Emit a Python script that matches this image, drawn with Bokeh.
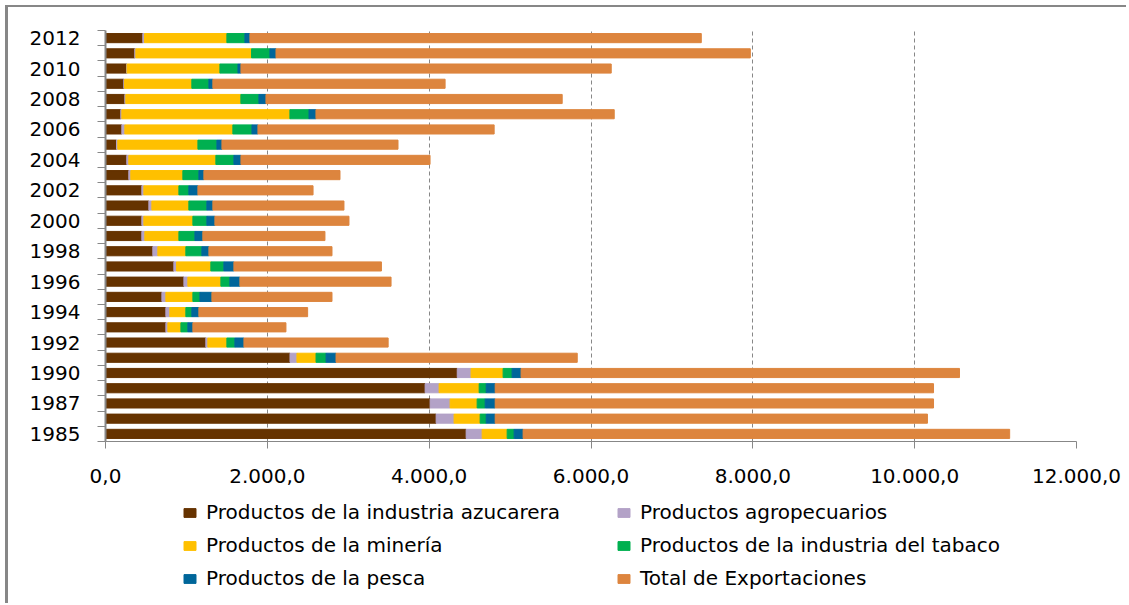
from bokeh.plotting import figure
from bokeh.layouts import column
from bokeh.models import Range1d, FixedTicker, Legend, LegendItem, ColumnDataSource
from bokeh.embed import file_html
from bokeh.resources import INLINE

# ---- data (millions of pesos), bottom row first ----
years = [1985, 1986, 1987, 1989, 1990, 1991, 1992, 1993, 1994, 1995, 1996, 1997, 1998,
         1999, 2000, 2001, 2002, 2003, 2004, 2005, 2006, 2007, 2008, 2009, 2010, 2011, 2012]

azucar = [4457, 4086, 4012, 3950, 4347, 2280, 1240, 746, 746, 697, 969, 845, 585,
          449, 449, 536, 449, 288, 263, 136, 202, 189, 239, 226, 263, 362, 461]
agro = [198, 222, 247, 173, 171, 86, 25, 25, 49, 49, 49, 33, 62,
        37, 25, 37, 25, 25, 25, 16, 37, 13, 12, 9, 3, 13, 21]
mineria = [309, 322, 334, 495, 396, 236, 235, 161, 198, 334, 408, 424, 346,
           421, 606, 457, 433, 643, 1076, 990, 1335, 2077, 1422, 832, 1148, 1430, 1018]
tabaco = [86, 75, 99, 87, 111, 124, 99, 86, 74, 87, 111, 161, 198,
          198, 173, 223, 123, 198, 223, 235, 236, 236, 223, 211, 223, 227, 223]
pesca = [111, 111, 124, 111, 111, 123, 112, 62, 87, 148, 124, 124, 87,
         98, 99, 74, 112, 62, 87, 62, 74, 86, 87, 49, 37, 75, 62]
total = [6013, 5342, 5417, 5417, 5418, 2981, 1782, 1150, 1344, 1484, 1868, 1823, 1521,
         1509, 1657, 1620, 1423, 1682, 2337, 2176, 2919, 3686, 3661, 2870, 4576, 5862, 5578]

series_names = ["Productos de la industria azucarera", "Productos agropecuarios",
                "Productos de la minería", "Productos de la industria del tabaco",
                "Productos de la pesca", "Total de Exportaciones"]
series_keys = ["azucar", "agro", "mineria", "tabaco", "pesca", "total"]
colors = ["#663300", "#B3A2C7", "#FFC000", "#00B050", "#00669A", "#DD853E"]

x_ticks = [0, 2000, 4000, 6000, 8000, 10000, 12000]
x_tick_labels = ["0,0", "2.000,0", "4.000,0", "6.000,0", "8.000,0", "10.000,0", "12.000,0"]

rows = list(range(len(years)))
src = ColumnDataSource(dict(row=rows, azucar=azucar, agro=agro, mineria=mineria,
                            tabaco=tabaco, pesca=pesca, total=total))

FONT = "DejaVu Sans"
GRAY = "#878787"

p = figure(output_backend="svg", toolbar_location=None,
           frame_width=971, frame_height=411,
           min_border_left=97, min_border_top=23, min_border_right=50, min_border_bottom=52,
           x_range=Range1d(0, 12000), y_range=Range1d(-0.5, len(years) - 0.5))
p.outline_line_color = None
p.background_fill_color = "white"
p.border_fill_color = "white"

renderers = p.hbar_stack(series_keys, y="row", height=0.6, color=colors, source=src)

# x axis
xa = p.xaxis[0]
xa.ticker = FixedTicker(ticks=x_ticks)
xa.major_label_overrides = {t: l for t, l in zip(x_ticks, x_tick_labels)}
xa.axis_line_color = GRAY
xa.axis_line_width = 1
xa.major_tick_line_color = GRAY
xa.major_tick_out = 7
xa.major_tick_in = 0
xa.minor_tick_line_color = None
xa.major_label_standoff = 20
xa.major_label_text_font = FONT
xa.major_label_text_font_size = "20px"
xa.major_label_text_color = "#000000"

# y axis
ya = p.yaxis[0]
even_rows = [r for r in rows if r % 2 == 0]
ya.ticker = FixedTicker(ticks=even_rows, minor_ticks=[r - 0.5 for r in rows] + [len(rows) - 0.5])
ya.major_label_overrides = {r: str(years[r]) for r in even_rows}
ya.axis_line_color = GRAY
ya.axis_line_width = 2
ya.major_tick_line_color = None
ya.major_tick_out = 0
ya.major_tick_in = 0
ya.minor_tick_line_color = GRAY
ya.minor_tick_out = 8
ya.minor_tick_in = 0
ya.major_label_standoff = 17
ya.major_label_text_font = FONT
ya.major_label_text_font_size = "20px"
ya.major_label_text_color = "#000000"

# grid
p.xgrid.ticker = FixedTicker(ticks=x_ticks)
p.xgrid.grid_line_color = GRAY
p.xgrid.grid_line_dash = "4 3"
p.xgrid.grid_line_width = 1
p.ygrid.visible = False

# ---- legend strip below the chart (two columns, filled row by row) ----
# same stacked series in a strip; the renderers are hidden so only the legend shows
lf = figure(output_backend="svg", toolbar_location=None, width=1118, height=110,
            min_border=0, x_axis_type=None, y_axis_type=None,
            x_range=Range1d(0, 12000), y_range=Range1d(-0.5, len(years) - 0.5))
lf.outline_line_color = None
lf.xgrid.visible = False
lf.ygrid.visible = False
swatches = lf.hbar_stack(series_keys, y="row", height=0.6, color=colors, source=src)
for r in swatches:
    r.visible = False
items = [LegendItem(label=name, renderers=[r]) for name, r in zip(series_names, swatches)]
legend = Legend(items=items, location=(77, 13), orientation="horizontal", ncols=2,
                glyph_width=15, glyph_height=11, label_height=22, label_width=401, spacing=9,
                padding=0, margin=0, label_standoff=9, inactive_fill_alpha=0,
                label_text_font=FONT, label_text_font_size="20px", label_text_color="#000000",
                border_line_color=None, background_fill_alpha=0)
lf.add_layout(legend, "center")

layout = column(p, lf, spacing=0,
                styles={"margin-left": "5px", "margin-top": "5px",
                        "border-left": "3px solid " + GRAY, "border-top": "2px solid " + GRAY})

open("out.html", "w").write(file_html(layout, INLINE))
